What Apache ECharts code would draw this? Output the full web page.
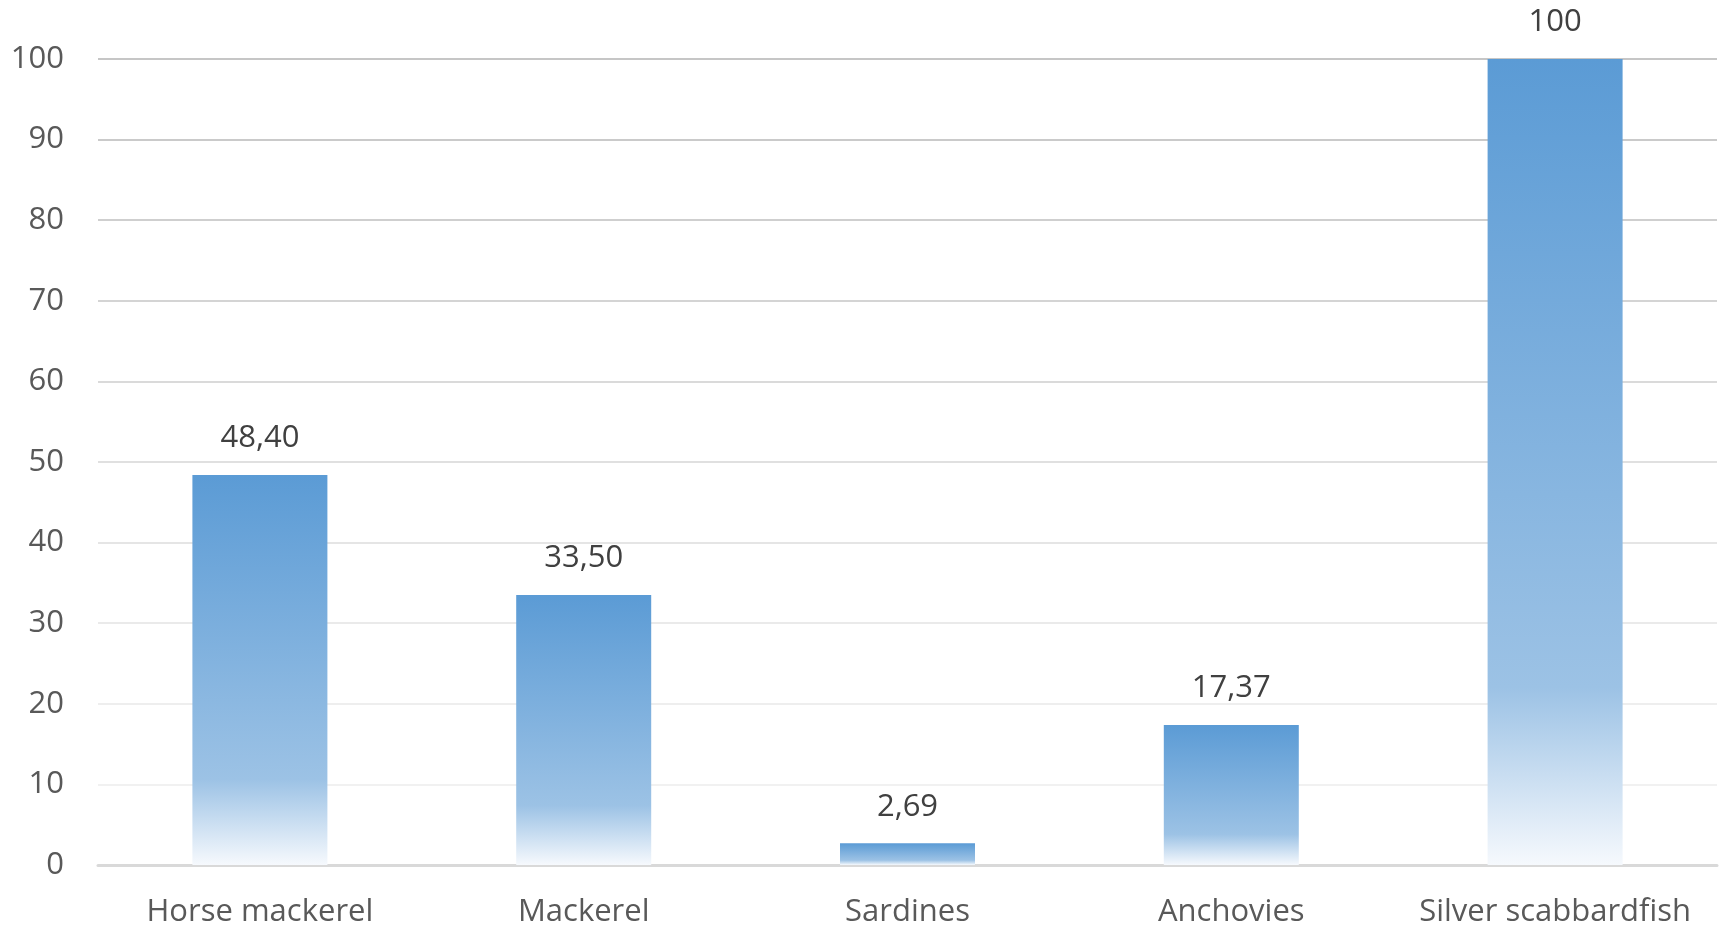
<!DOCTYPE html>
<html>
<head>
<meta charset="utf-8">
<script src="https://cdn.jsdelivr.net/npm/echarts@6/dist/echarts.min.js"></script>
<style>
  html, body { margin: 0; padding: 0; background: #fff; }
  #chart-container { width: 1723px; height: 930px; }
</style>
</head>
<body>
<div id="chart-container"></div>
<script>
const categories = ["Horse mackerel", "Mackerel", "Sardines", "Anchovies", "Silver scabbardfish"];
const values = [48.40, 33.50, 2.69, 17.37, 100];
const valueLabels = ["48,40", "33,50", "2,69", "17,37", "100"];

let element = document.getElementById("chart-container");
let myChart = echarts.init(element, null, { renderer: "canvas" });

// grid lines fade out toward the bottom, like in the picture
const splitColors = ["#d9d9d9", "#f1f1f1", "#eeeeee", "#eaeaea", "#e5e5e5", "#e0e0e0",
  "#dadada", "#d4d4d4", "#cfcfcf", "#cacaca", "#c6c6c6"];

let option = {
  backgroundColor: "#fff",
  animation: false,
  grid: { left: 98, right: 6, top: 59, bottom: 65 },
  xAxis: {
    type: "category",
    data: categories,
    axisLine: { lineStyle: { color: "#d9d9d9", width: 3 } },
    axisTick: { show: false },
    axisLabel: {
      interval: 0,
      hideOverlap: false,
      color: "#595959",
      fontFamily: "Open Sans",
      fontSize: 31,
      margin: 32,
    },
  },
  yAxis: {
    type: "value",
    min: 0,
    max: 100,
    interval: 10,
    axisLine: { show: false },
    axisTick: { show: false },
    axisLabel: {
      color: "#595959",
      fontFamily: "Open Sans",
      fontSize: 31,
      margin: 34,
    },
    splitLine: { lineStyle: { color: splitColors, width: 2 } },
  },
  series: [
    {
      type: "bar",
      data: values,
      barWidth: 135,
      itemStyle: {
        color: new echarts.graphic.LinearGradient(0, 0, 0, 1, [
          { offset: 0, color: "#5b9bd5" },
          { offset: 0.78, color: "#9cc2e5" },
          { offset: 1, color: "#f6f9fd" },
        ]),
      },
      label: {
        show: true,
        position: "top",
        distance: 21,
        color: "#404040",
        fontFamily: "Open Sans",
        fontSize: 31,
        formatter: (p) => valueLabels[p.dataIndex],
      },
    },
  ],
};
myChart.setOption(option);
</script>
</body>
</html>
